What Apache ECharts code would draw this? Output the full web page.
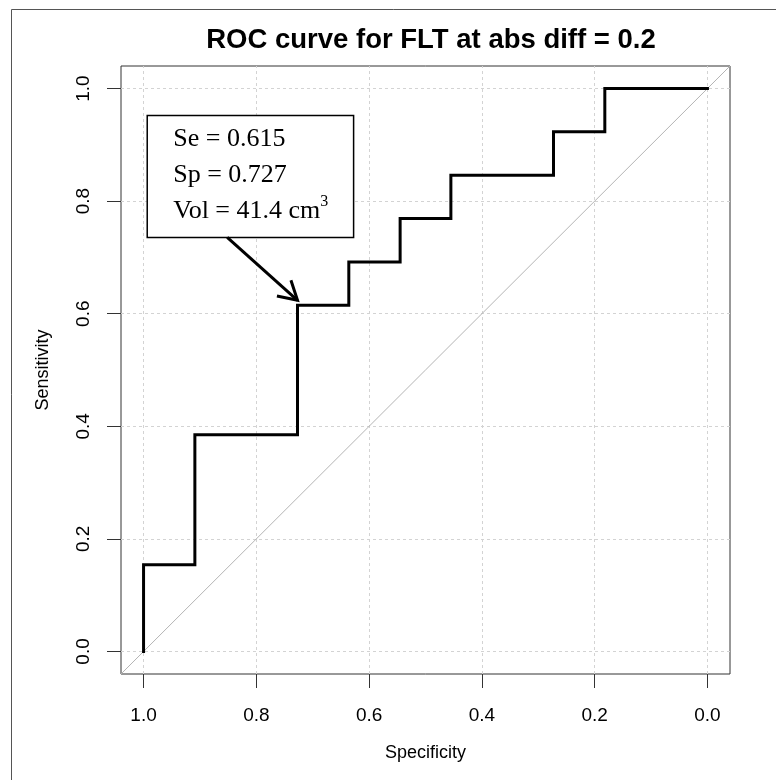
<!DOCTYPE html>
<html><head><meta charset="utf-8">
<script src="https://cdn.jsdelivr.net/npm/echarts@6/dist/echarts.min.js"></script>
<style>html,body{margin:0;padding:0;background:#fff}#c{width:776px;height:780px}</style>
</head><body><div id="c"></div>
<script>
// ---- data ----
const specificity = [1, 1, 0.909, 0.909, 0.727, 0.727, 0.636, 0.636, 0.545, 0.545, 0.455, 0.455, 0.273, 0.273, 0.182, 0.182, 0];
const sensitivity = [0, 0.154, 0.154, 0.385, 0.385, 0.615, 0.615, 0.692, 0.692, 0.769, 0.769, 0.846, 0.846, 0.923, 0.923, 1, 1];
const tickValues = [0, 0.2, 0.4, 0.6, 0.8, 1.0];
const tickLabels = ['0.0', '0.2', '0.4', '0.6', '0.8', '1.0'];
const bestSe = 0.615;
const bestSp = 0.727;
const bestVol = 41.4;
const titleText = 'ROC curve for FLT at abs diff = 0.2';
const xName = 'Specificity';
const yName = 'Sensitivity';

// ---- layout ----
const AX_MIN = -0.04, AX_MAX = 1.04;
const GRID = { left: 121, top: 66, width: 609, height: 608 };
const SANS = 'Liberation Sans, Arial, sans-serif';
const SERIF = 'Liberation Serif, Times New Roman, serif';

const chart = echarts.init(document.getElementById('c'), null, { renderer: 'canvas' });

function labelFor(v) {
  for (let i = 0; i < tickValues.length; i++) if (Math.abs(tickValues[i] - v) < 1e-6) return tickLabels[i];
  return '';
}

function axisCommon() {
  return {
    type: 'value', min: AX_MIN, max: AX_MAX,
    axisLine: { show: false, onZero: false },
    axisTick: { show: true, inside: false, length: 14, customValues: tickValues, lineStyle: { color: '#333', width: 1 } },
    axisLabel: { show: true, customValues: tickValues, formatter: labelFor, fontSize: 19, fontFamily: SANS, color: '#000' },
    splitLine: { show: false },
    nameTextStyle: { fontSize: 18, fontFamily: SANS, color: '#000' },
    nameLocation: 'middle'
  };
}

const xAxis = Object.assign(axisCommon(), { inverse: true, name: xName, nameGap: 70 });
xAxis.axisLabel.margin = 32;
const yAxis = Object.assign(axisCommon(), { name: yName, nameGap: 69, nameRotate: 90 });
yAxis.axisLabel.margin = 28;
yAxis.axisLabel.rotate = 90;

const gridLineStyle = { color: '#d3d3d3', type: [3, 3], width: 1 };

const option = {
  animation: false,
  backgroundColor: '#fff',
  grid: Object.assign({ show: true, borderColor: '#333', borderWidth: 1, backgroundColor: 'transparent' }, GRID),
  xAxis: xAxis,
  yAxis: yAxis,
  graphic: [
    { type: 'line', shape: { x1: 11.5, y1: 9.5, x2: 776, y2: 9.5 }, style: { stroke: '#555', lineWidth: 1 } },
    { type: 'line', shape: { x1: 11.5, y1: 9.5, x2: 11.5, y2: 780 }, style: { stroke: '#555', lineWidth: 1 } },
    { type: 'text', x: 431, y: 40,
      style: { text: titleText, fontSize: 27.5, fontWeight: 'bold', fontFamily: SANS, fill: '#000', align: 'center', verticalAlign: 'middle' } }
  ],
  series: [
    { // grid lines
      type: 'line', data: [], silent: true, z: 0,
      markLine: {
        silent: true, symbol: 'none', label: { show: false }, z: 0,
        lineStyle: gridLineStyle,
        data: tickValues.map(v => ({ xAxis: v })).concat(tickValues.map(v => ({ yAxis: v })))
      }
    },
    { // chance diagonal
      type: 'line', data: [[AX_MAX, 1 - AX_MAX], [AX_MIN, 1 - AX_MIN]], showSymbol: false, symbol: 'none',
      lineStyle: { color: '#b4b4b4', width: 1 }, silent: true, z: 2
    },
    { // ROC curve
      type: 'line', data: specificity.map((s, i) => [s, sensitivity[i]]), showSymbol: false, symbol: 'none',
      lineStyle: { color: '#000', width: 3, join: 'miter', cap: 'square' }, silent: true, z: 10
    },
    { // annotation
      type: 'custom', data: [[bestSp, bestSe]], silent: true, z: 12, clip: false,
      renderItem: function (params, api) {
        const tip0 = api.coord([api.value(0), api.value(1)]);
        const tip = [tip0[0], tip0[1] - 5];
        const tl = api.coord([0.9935, 0.952]);
        const br = api.coord([0.6275, 0.7355]);
        const start = [tl[0] + 80, br[1]];
        const ang = Math.atan2(tip[1] - start[1], tip[0] - start[0]);
        const L = 21, a = Math.PI / 6;
        const h1 = [tip[0] - L * Math.cos(ang - a), tip[1] - L * Math.sin(ang - a)];
        const h2 = [tip[0] - L * Math.cos(ang + a), tip[1] - L * Math.sin(ang + a)];
        const txt = '{t|Se = ' + bestSe.toFixed(3) + '}\n{t|Sp = ' + bestSp.toFixed(3) + '}\n{t|Vol = ' + bestVol.toFixed(1) + ' cm}{s|3}';
        return {
          type: 'group', children: [
            { type: 'rect', shape: { x: tl[0], y: tl[1], width: br[0] - tl[0], height: br[1] - tl[1] },
              style: { fill: '#fff', stroke: '#000', lineWidth: 1.5 } },
            { type: 'text', x: tl[0] + 26, y: tl[1] + 6,
              style: { text: txt, align: 'left', verticalAlign: 'top',
                rich: {
                  t: { fontSize: 26, fontFamily: SERIF, fill: '#000', lineHeight: 36 },
                  s: { fontSize: 16, fontFamily: SERIF, fill: '#000', lineHeight: 16, verticalAlign: 'top' }
                } } },
            { type: 'line', shape: { x1: start[0], y1: start[1], x2: tip[0], y2: tip[1] },
              style: { stroke: '#000', lineWidth: 3 } },
            { type: 'polyline', shape: { points: [h1, tip, h2] },
              style: { stroke: '#000', lineWidth: 3, fill: null } }
          ]
        };
      }
    }
  ]
};
chart.setOption(option);
</script>
</body></html>
